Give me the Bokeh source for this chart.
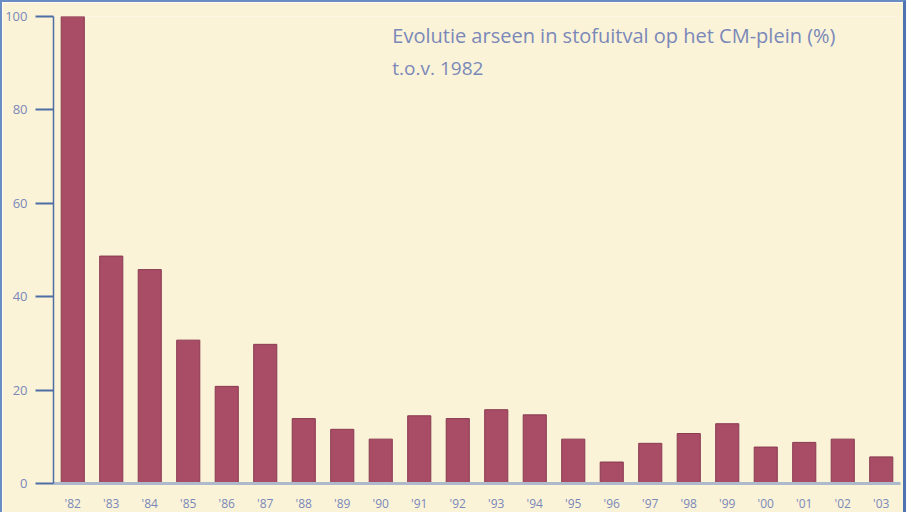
from bokeh.plotting import figure
from bokeh.models import FixedTicker, Label, FactorRange, Range1d
from bokeh.embed import file_html
from bokeh.resources import INLINE

years = ["'82", "'83", "'84", "'85", "'86", "'87", "'88", "'89", "'90", "'91", "'92",
         "'93", "'94", "'95", "'96", "'97", "'98", "'99", "'00", "'01", "'02", "'03"]
values = [100, 48.7, 45.8, 30.7, 20.8, 29.8, 13.9, 11.6, 9.5, 14.5, 13.9,
          15.8, 14.7, 9.5, 4.6, 8.6, 10.7, 12.8, 7.8, 8.8, 9.5, 5.7]
y_ticks = [0, 20, 40, 60, 80, 100]
title1 = "Evolutie arseen in stofuitval op het CM-plein (%)"
title2 = "t.o.v. 1982"

BG = "#FAF3D8"
TXT = "#7A88B8"
FONT = "Open Sans"

p = figure(width=901, height=510, output_backend="svg", toolbar_location=None,
           x_range=FactorRange(*years, range_padding=0), y_range=Range1d(0, 100),
           min_border_left=51, min_border_right=8, min_border_top=14, min_border_bottom=20)
p.styles = {"box-sizing": "content-box",
            "border-top": "2px solid #6A8CC4", "border-left": "2px solid #6A8CC4",
            "border-right": "3px solid #4F73B0"}
p.background_fill_color = BG
p.border_fill_color = BG
p.outline_line_color = None
p.grid.visible = False

p.vbar(x=years, top=values, width=0.6, fill_color="#A94C66", line_color="#8A3A50", line_width=1)

ya = p.yaxis[0]
ya.ticker = FixedTicker(ticks=y_ticks)
ya.axis_line_color = "#4F6DA5"
ya.axis_line_width = 1.5
ya.major_tick_line_color = "#4F6DA5"
ya.major_tick_line_width = 2
ya.major_tick_out = 18
ya.major_tick_in = 0
ya.minor_tick_line_color = None
ya.major_label_standoff = 8
ya.major_label_text_color = TXT
ya.major_label_text_font = FONT
ya.major_label_text_font_size = "13px"

xa = p.xaxis[0]
xa.axis_line_color = "#AEB9CB"
xa.axis_line_width = 3
xa.major_tick_line_color = None
xa.minor_tick_line_color = None
xa.major_label_standoff = 5
xa.major_label_text_color = TXT
xa.major_label_text_font = FONT
xa.major_label_text_font_size = "12px"

for txt, yy, fs in [(title1, 95.9, "20px"), (title2, 89.0, "19px")]:
    p.add_layout(Label(x=8.8, y=yy, text=txt, text_baseline="alphabetic", text_align="left",
                       text_color=TXT, text_font=FONT, text_font_size=fs))

open("out.html", "w").write(file_html(p, INLINE))
